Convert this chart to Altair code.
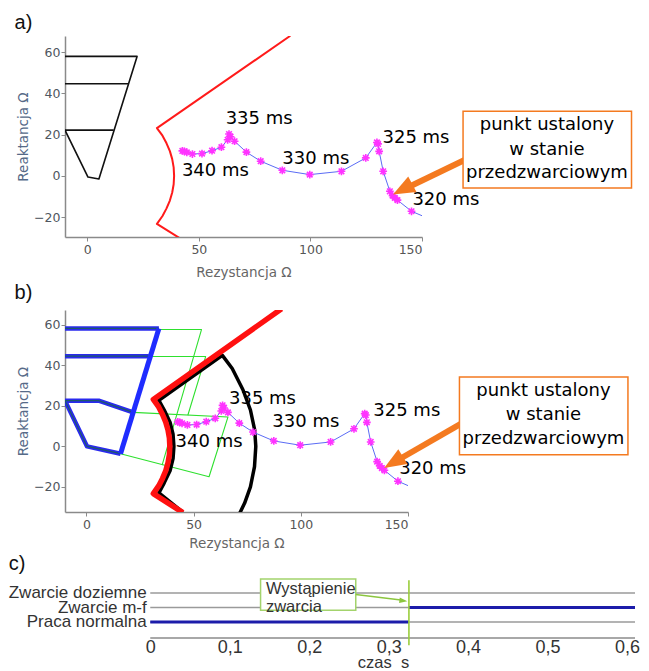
import altair as alt
import pandas as pd

FONT = "DejaVu Sans"
CFONT = "Liberation Sans"

# ---------------- shared data (ohms) ----------------
# impedance trajectory, R and X, from the end of the line towards 340 ms
traj_r = [150.5, 145.3, 139.0, 137.8, 136.8, 135.6, 132.6, 130.8, 130.3, 129.8, 124.8, 113.9,
          99.7, 87.4, 77.7, 71.3, 66.0, 64.2, 63.5, 62.9, 60.1, 55.9, 51.4, 47.1, 44.6, 43.5, 42.6]
traj_x = [-19.6, -17.2, -11.8, -10.7, -9.6, -7.5, 2.2, 11.9, 15.5, 16.2, 8.7, 2.2,
          0.6, 2.7, 7.1, 11.5, 16.8, 19.0, 20.3, 17.5, 13.9, 12.2, 10.8, 10.6, 11.4, 11.9, 12.1]
traj_marker = [0, 1, 1, 1, 1, 1, 1, 1, 1, 1, 1, 1, 1, 1, 1, 1, 1, 1, 1, 1, 1, 1, 1, 1, 1, 1, 1]

# red characteristic
red_r = [91.0, 31.2, 33.7, 35.5, 37.0, 38.05, 38.7, 38.9, 38.7, 38.05, 37.0, 35.5, 33.7, 31.2, 45.0]
red_x = [68.0, 23.2, 19.5, 15.8, 12.0, 8.1, 4.1, 0.0, -4.1, -8.1, -12.0, -15.8, -19.5, -23.3, -32.7]

ms_text = ["335 ms", "340 ms", "330 ms", "325 ms", "320 ms"]
box_text = ["punkt ustalony", "w stanie", "przedzwarciowym"]

# ---------------- panel a ----------------
zone_a_seg = ["z", "z", "z", "z", "z", "h2", "h2", "h1", "h1"]
zone_a_r = [-10, 22.3, 5.2, 0.3, -10, -10, 18.5, -10, 11.8]
zone_a_x = [58.0, 58.0, -1.5, -0.6, 22.2, 44.7, 44.7, 22.2, 22.2]

ms_a_r = [62.0, 42.4, 87.4, 132.3, 145.7]
ms_a_x = [27.6, 2.5, 8.2, 18.4, -11.6]
box_a = [168.4, 243.9, 31.4, -5.9]          # r1, r2, x1, x2
box_a_text_r = [206.0, 206.0, 206.0]
box_a_text_x = [24.8, 12.6, 1.3]
arrow_a = [170.0, 8.2, 141.0, -7.0]         # from (r, x) to (r, x)
arrow_a_tip = [137.0, -9.1]
arrow_a_angle = 242

# ---------------- panel b ----------------
blue_seg = ["h58", "h58", "h45", "h45", "z1", "z1", "z1", "z1", "z1"]
blue_r = [-10, 33.8, -10, 29.1, 21.8, 5.7, -10, 0.3, 15.9]
blue_x = [58.3, 58.3, 44.6, 44.6, 16.8, 22.6, 22.6, 0.0, -3.6]
slant_r = [33.8, 15.9]
slant_x = [58.3, -3.6]
green_seg = ["g1", "g1", "g1", "g2", "g2", "g2", "g3", "g3", "g3", "g3"]
green_r = [33.8, 53.7, 35.3, 29.1, 55.6, 47.3, 21.8, 66.0, 57.2, 15.9]
green_x = [57.8, 57.8, -9.2, 44.4, 44.4, 15.4, 16.8, 14.5, -15.0, -3.6]
black_r = [45.0, 33.8, 36.3, 39.0, 40.4, 40.8, 40.4, 39.0, 36.3, 33.8, 63.4, 68.0, 73.0, 76.5,
           78.5, 79.0, 78.4, 76.5, 73.8, 71.5]
black_x = [-32.5, -23.0, -18.0, -12.0, -6.0, 0.0, 6.0, 12.0, 18.0, 22.8, 45.0, 38.5, 28.0, 18.0,
           8.0, 0.0, -10.0, -20.0, -28.0, -33.0]

ms_b_r = [66.5, 41.6, 86.7, 133.8, 145.9]
ms_b_x = [23.6, 2.1, 12.0, 17.3, -11.0]
box_b = [174.0, 252.6, 34.3, -4.1]
box_b_text_r = [213.2, 213.2, 213.2]
box_b_text_x = [27.2, 15.3, 3.5]
arrow_b = [176.0, 12.0, 142.9, -8.2]
arrow_b_tip = [138.9, -10.7]
arrow_b_angle = 238.5

# ---------------- panel c ----------------
states = ["Praca normalna", "Zwarcie m-f", "Zwarcie doziemne"]
state_pos = [0, 1, 2]
t_end = 0.61
state_level = [0, 1]
state_t0 = [0.0, 0.3255]
state_t1 = [0.3255, 0.61]
fault_t = 0.3255
time_ticks = [0, 0.1, 0.2, 0.3, 0.4, 0.5, 0.6]
note_c_text = ["Wystąpienie", "zwarcia"]
note_c_text_t = [0.1455, 0.1455]
note_c_text_y = [2.28, 1.03]
note_c_box = [0.1388, 0.2586, 2.97, 0.81]
arrow_c = [0.2586, 1.89, 0.318, 1.5]
arrow_c_tip = [0.3235, 1.43]

ASTER = "M-1,0L1,0M0,-1L0,1M-0.72,-0.72L0.72,0.72M-0.72,0.72L0.72,-0.72"
HEAD = "M0,0L-0.8,2L0.8,2Z"
HEAD_C = "M0,0L-0.7,2L0.7,2Z"


def df_path(xs, ys, seg=None):
    d = {"x": xs, "y": ys, "i": list(range(len(xs)))}
    if seg is not None:
        d["seg"] = seg
    return pd.DataFrame(d)


def rx_panel(title, dx, toff, xtp, width, height, xdom, ydom, extra_layers, ms_r, ms_x, box,
             btr, btx, arrow, tip, angle):
    xs = alt.Scale(domain=xdom, nice=False, zero=False)
    ys = alt.Scale(domain=ydom, nice=False, zero=False)
    xax = alt.Axis(values=[0, 50, 100, 150], title="Rezystancja Ω", grid=False,
                   domainColor="#8a8a8a", domainWidth=1.5, tickColor="#8a8a8a", tickSize=4,
                   labelColor="#555555", labelFont=FONT, labelFontSize=12.5, labelPadding=2,
                   titleFont=FONT, titleFontSize=13.5, titleFontWeight="normal",
                   titleColor="#666666", titlePadding=xtp)
    yax = alt.Axis(values=[-20, 0, 20, 40, 60], title="Reaktancja Ω", grid=False,
                   domainColor="#8a8a8a", domainWidth=1.5, tickColor="#8a8a8a", tickSize=4,
                   labelColor="#4f5660", labelFont=FONT, labelFontSize=12.5, labelPadding=1,
                   titleFont=FONT, titleFontSize=13.5, titleFontWeight="normal",
                   titleColor="#566a88", titlePadding=3)

    def X(f="x"):
        return alt.X(f + ":Q", scale=xs, axis=xax)

    def Y(f="y"):
        return alt.Y(f + ":Q", scale=ys, axis=yax)

    layers = []
    for (df, color, w, has_seg) in extra_layers:
        enc = dict(x=X(), y=Y(), order="i:Q")
        if has_seg:
            enc["detail"] = "seg:N"
        layers.append(alt.Chart(df).mark_line(color=color, strokeWidth=w, clip=True,
                                              strokeJoin="round").encode(**enc))

    tdf = df_path(traj_r, traj_x)
    tdf["m"] = traj_marker
    layers.append(alt.Chart(tdf).mark_line(color="#5b6cf5", strokeWidth=1, clip=True)
                  .encode(x=X(), y=Y(), order="i:Q"))
    layers.append(alt.Chart(tdf).transform_filter("datum.m == 1")
                  .mark_point(shape=ASTER, filled=False, size=60, strokeWidth=1.6,
                              color="#ff33ff", opacity=1, clip=True)
                  .encode(x=X(), y=Y()))

    mdf = pd.DataFrame({"x": ms_r, "y": ms_x, "t": ms_text})
    layers.append(alt.Chart(mdf).mark_text(align="left", baseline="middle", font=FONT,
                                           fontSize=18, color="#000000")
                  .encode(x=X(), y=Y(), text="t:N"))

    adf = pd.DataFrame({"x": [arrow[0]], "y": [arrow[1]], "x2": [arrow[2]], "y2": [arrow[3]]})
    layers.append(alt.Chart(adf).mark_rule(color="#f47a20", strokeWidth=6)
                  .encode(x=X(), y=Y(), x2="x2:Q", y2="y2:Q"))
    hdf = pd.DataFrame({"x": [tip[0]], "y": [tip[1]]})
    layers.append(alt.Chart(hdf).mark_point(shape=HEAD, filled=True, size=480, angle=angle,
                                            color="#f47a20", opacity=1, strokeWidth=0)
                  .encode(x=X(), y=Y()))

    bdf = pd.DataFrame({"x": [box[0]], "x2": [box[1]], "y": [box[2]], "y2": [box[3]]})
    layers.append(alt.Chart(bdf).mark_rect(fill="#ffffff", stroke="#f47a20", strokeWidth=1.5)
                  .encode(x=X(), y=Y(), x2="x2:Q", y2="y2:Q"))
    btdf = pd.DataFrame({"x": btr, "y": btx, "t": box_text})
    layers.append(alt.Chart(btdf).mark_text(align="center", baseline="middle", font=FONT,
                                            fontSize=18, color="#000000")
                  .encode(x=X(), y=Y(), text="t:N"))

    return alt.layer(*layers).properties(
        width=width, height=height,
        title=alt.TitleParams(title, anchor="start", frame="bounds", fontSize=20, font=CFONT,
                              fontWeight="normal", color="#111111", offset=toff, dx=dx))


panel_a = rx_panel(
    "a)", -2, 3, 10, 357, 201, [-10, 150], [-29.7, 67.9],
    [(df_path(zone_a_r, zone_a_x, zone_a_seg), "#111111", 1.6, True),
     (df_path(red_r, red_x), "#ff1a1a", 2, False)],
    ms_a_r, ms_a_x, box_a, box_a_text_r, box_a_text_x, arrow_a, arrow_a_tip, arrow_a_angle)

panel_b = rx_panel(
    "b)", -2, 7, 6, 343, 202, [-10, 150], [-32.4, 67.4],
    [(df_path(green_r, green_x, green_seg), "#2ee02e", 1.1, True),
     (df_path(blue_r, blue_x, blue_seg), "#2a2aee", 4.5, True),
     (df_path(blue_r, blue_x, blue_seg), "#1d5a6a", 1.2, True),
     (df_path(slant_r, slant_x), "#1f2cff", 5, False),
     (df_path(black_r, black_x), "#000000", 3.5, False),
     (df_path(red_r, red_x), "#ff1010", 5.5, False)],
    ms_b_r, ms_b_x, box_b, box_b_text_r, box_b_text_x, arrow_b, arrow_b_tip, arrow_b_angle)

# ---------------- panel c chart ----------------
# the time scale leaves room on its left for the state names, drawn as text
xs_c = alt.Scale(domain=[-0.1073, t_end], nice=False, zero=False)
ys_c = alt.Scale(domain=[-1.1, 3.1], nice=False, zero=False)
xax_c = alt.Axis(values=time_ticks,
                 labelExpr="datum.value == 0 ? '0' : replace(format(datum.value, '.1f'), '.', ',')",
                 grid=False, ticks=False, domain=False,
                 labelFont=CFONT, labelFontSize=18, labelColor="#333333", labelPadding=0,
                 labelOverlap=False,
                 title="czas\u00a0 s", titleFont=CFONT, titleFontSize=16.5,
                 titleFontWeight="normal", titleColor="#333333", titleX=318, titleY=24,
                 titleBaseline="middle")


def XC(f="x"):
    return alt.X(f + ":Q", scale=xs_c, axis=xax_c)


def YC(f="y"):
    return alt.Y(f + ":Q", scale=ys_c, axis=None)


grid_df = pd.DataFrame({"x": [0.0, 0.0, 0.0], "x2": [t_end] * 3, "y": state_pos})
axis_df = pd.DataFrame({"x": [0.0], "x2": [t_end], "y": [-1.1]})
name_df = pd.DataFrame({"x": [-0.0045] * 3, "y": state_pos, "t": states})
sdf = pd.DataFrame({"x": state_t0, "x2": state_t1, "y": state_level})
c_layers = [
    alt.Chart(grid_df).mark_rule(color="#9a9a9a", strokeWidth=1.3)
    .encode(x=XC(), x2="x2:Q", y=YC()),
    alt.Chart(axis_df).mark_rule(color="#a8a8a8", strokeWidth=2)
    .encode(x=XC(), x2="x2:Q", y=YC()),
    alt.Chart(name_df).mark_text(align="right", baseline="middle", font=CFONT, fontSize=17,
                                 color="#333333")
    .encode(x=XC(), y=YC(), text="t:N"),
    alt.Chart(sdf).mark_rule(color="#1c1caa", strokeWidth=3).encode(x=XC(), x2="x2:Q", y=YC()),
    alt.Chart(pd.DataFrame({"x": [fault_t], "y": [-1.6], "y2": [2.87]}))
    .mark_rule(color="#9acd3c", strokeWidth=1.6).encode(x=XC(), y=YC(), y2="y2:Q"),
    alt.Chart(pd.DataFrame({"x": [note_c_box[0]], "x2": [note_c_box[1]],
                            "y": [note_c_box[2]], "y2": [note_c_box[3]]}))
    .mark_rect(fill="#ffffff", stroke="#a3d36c", strokeWidth=1.5)
    .encode(x=XC(), x2="x2:Q", y=YC(), y2="y2:Q"),
    alt.Chart(pd.DataFrame({"x": note_c_text_t, "y": note_c_text_y, "t": note_c_text}))
    .mark_text(align="left", baseline="middle", font=CFONT, fontSize=16.5, color="#333333")
    .encode(x=XC(), y=YC(), text="t:N"),
    alt.Chart(pd.DataFrame({"x": [arrow_c[0]], "y": [arrow_c[1]], "x2": [arrow_c[2]],
                            "y2": [arrow_c[3]]}))
    .mark_rule(color="#8cc63f", strokeWidth=1.5).encode(x=XC(), y=YC(), x2="x2:Q", y2="y2:Q"),
    alt.Chart(pd.DataFrame({"x": [arrow_c_tip[0]], "y": [arrow_c_tip[1]]}))
    .mark_point(shape=HEAD_C, filled=True, size=64, angle=97, color="#8cc63f", opacity=1,
                strokeWidth=0).encode(x=XC(), y=YC()),
]
panel_c = alt.layer(*c_layers).properties(
    width=570, height=61,
    title=alt.TitleParams("c)", anchor="start", frame="bounds", fontSize=20, font=CFONT,
                          fontWeight="normal", color="#111111", offset=3, dx=0))

chart = alt.ConcatChart(concat=[panel_a, panel_b, panel_c], columns=1, align="none",
                        spacing=4).properties(
    padding={"left": 0, "top": 5, "right": 0, "bottom": 0}
).configure_view(stroke=None)

chart.save("out.html", embed_options={"renderer": "svg", "actions": False})
